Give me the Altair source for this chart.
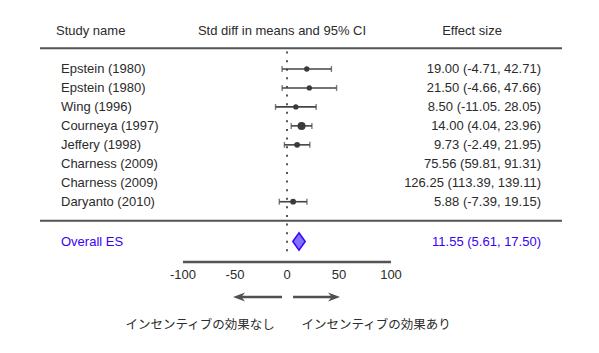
import altair as alt
import pandas as pd

# ---------------- data ----------------
studies = ["Epstein (1980)", "Epstein (1980)", "Wing (1996)", "Courneya (1997)",
           "Jeffery (1998)", "Charness (2009)", "Charness (2009)", "Daryanto (2010)"]
effects = [19.00, 21.50, 8.50, 14.00, 9.73, 75.56, 126.25, 5.88]
lowers = [-4.71, -4.66, -11.05, 4.04, -2.49, 59.81, 113.39, -7.39]
uppers = [42.71, 47.66, 28.05, 23.96, 21.95, 91.31, 139.11, 19.15]
effect_labels = ["19.00 (-4.71, 42.71)", "21.50 (-4.66, 47.66)", "8.50 (-11.05. 28.05)",
                 "14.00 (4.04, 23.96)", "9.73 (-2.49, 21.95)", "75.56 (59.81, 91.31)",
                 "126.25 (113.39, 139.11)", "5.88 (-7.39, 19.15)"]
weights = [7.0, 7.0, 7.0, 16.0, 8.3, 23.4, 23.0, 8.3]
plotted = [True, True, True, True, True, False, False, True]

overall_name = "Overall ES"
overall_effect = 11.55
overall_lower = 5.61
overall_upper = 17.50
overall_label = "11.55 (5.61, 17.50)"

headers = ["Study name", "Std diff in means and 95% CI", "Effect size"]
ticks = [-100, -50, 0, 50, 100]
tick_labels = ["-100", "-50", "0", "50", "100"]
direction_labels = ["インセンティブの効果なし", "インセンティブの効果あり"]

# ---------------- layout ----------------
W, H = 599, 353
X0_PX, PX_PER_UNIT = 287.0, 1.04
ROW0_PX, ROW_H = 69.0, 18.96
x_dom = [-X0_PX / PX_PER_UNIT, (W - X0_PX) / PX_PER_UNIT]
y_dom = [-ROW0_PX / ROW_H, (H - ROW0_PX) / ROW_H]

xs = alt.Scale(domain=x_dom, nice=False, zero=False)
ys = alt.Scale(domain=y_dom, nice=False, zero=False, reverse=True)

FONT = "Liberation Sans"
JFONT = "Noto Sans CJK JP"
TXT = "#2b2b2b"
LINE = "#555555"
BLUE = "#3a00f5"

def Xq(f):
    return alt.X(f, type="quantitative", scale=xs, axis=None)

def Yq(f):
    return alt.Y(f, type="quantitative", scale=ys, axis=None)

HEADER_ROW = -2.0
TOPLINE_ROW = -1.1
MIDLINE_ROW = 8.0
OVERALL_ROW = 9.1
AXIS_ROW = 10.18
TICKLAB_ROW = 10.86
ARROW_ROW = 12.03
DIRLAB_ROW = 13.5

df = pd.DataFrame({
    "study": studies, "effect": effects, "lower": lowers, "upper": uppers,
    "label": effect_labels, "weight": weights, "plotted": plotted,
    "row": list(range(len(studies))),
})
df_plot = df[df["plotted"]]

layers = []

# headers
hdr = pd.DataFrame({"t": headers, "row": [HEADER_ROW] * 3})
for i, (px, al) in enumerate([(56, "left"), (282, "center"), (472, "center")]):
    layers.append(
        alt.Chart(hdr.iloc[[i]]).mark_text(font=FONT, fontSize=13, color=TXT, align=al, baseline="middle")
        .encode(x=alt.value(px), y=Yq("row"), text="t:N")
    )

# horizontal separator lines
sep = pd.DataFrame({"row": [TOPLINE_ROW, MIDLINE_ROW]})
layers.append(
    alt.Chart(sep).mark_rule(color=LINE, strokeWidth=2)
    .encode(x=alt.value(40), x2=alt.value(562), y=Yq("row"))
)

# dotted zero line
zl = pd.DataFrame({"x": [0], "r1": [-0.92], "r2": [9.9]})
layers.append(
    alt.Chart(zl).mark_rule(color=LINE, strokeWidth=2, strokeDash=[2, 6.6], strokeCap="butt")
    .encode(x=Xq("x"), y=Yq("r1"), y2="r2")
)

# error bars
layers.append(
    alt.Chart(df_plot).mark_rule(color="#444444", strokeWidth=1.6)
    .encode(x=Xq("lower"), x2="upper", y=Yq("row"))
)
for col in ["lower", "upper"]:
    layers.append(
        alt.Chart(df_plot).mark_tick(color="#444444", orient="vertical", size=6, thickness=1.4)
        .encode(x=Xq(col), y=Yq("row"))
    )
layers.append(
    alt.Chart(df_plot).mark_circle(color="#3a3a3a", opacity=1)
    .encode(x=Xq("effect"), y=Yq("row"),
            size=alt.Size("weight:Q", scale=alt.Scale(domain=[0, 20], range=[0, 80]), legend=None))
)

# study names and effect labels
layers.append(
    alt.Chart(df).mark_text(font=FONT, fontSize=13, color=TXT, align="left", baseline="middle")
    .encode(x=alt.value(61), y=Yq("row"), text="study:N")
)
layers.append(
    alt.Chart(df).mark_text(font=FONT, fontSize=13, color=TXT, align="right", baseline="middle")
    .encode(x=alt.value(541), y=Yq("row"), text="label:N")
)

# overall
ov = pd.DataFrame({"name": [overall_name], "label": [overall_label], "row": [OVERALL_ROW]})
layers.append(
    alt.Chart(ov).mark_text(font=FONT, fontSize=13, color=BLUE, align="left", baseline="middle")
    .encode(x=alt.value(61), y=Yq("row"), text="name:N")
)
layers.append(
    alt.Chart(ov).mark_text(font=FONT, fontSize=13, color=BLUE, align="right", baseline="middle")
    .encode(x=alt.value(541), y=Yq("row"), text="label:N")
)
half = 0.46
dia = pd.DataFrame({
    "x": [overall_lower, overall_effect, overall_upper],
    "r1": [OVERALL_ROW, OVERALL_ROW - half, OVERALL_ROW],
    "r2": [OVERALL_ROW, OVERALL_ROW + half, OVERALL_ROW],
})
layers.append(
    alt.Chart(dia).mark_area(orient="vertical", color="#8072ff", fill="#8072ff", fillOpacity=1,
                              stroke="#3c00ff", strokeWidth=1.5, interpolate="linear")
    .encode(x=Xq("x"), y=Yq("r1"), y2="r2")
)

# x axis line & tick labels
ax = pd.DataFrame({"x1": [ticks[0]], "x2": [ticks[-1]], "row": [AXIS_ROW]})
layers.append(
    alt.Chart(ax).mark_rule(color=LINE, strokeWidth=2.5)
    .encode(x=Xq("x1"), x2="x2", y=Yq("row"))
)
tk = pd.DataFrame({"v": ticks, "lab": tick_labels, "row": [TICKLAB_ROW] * len(ticks)})
layers.append(
    alt.Chart(tk).mark_text(font=FONT, fontSize=13, color=TXT, align="center", baseline="middle")
    .encode(x=Xq("v"), y=Yq("row"), text="lab:N")
)

# direction arrows
arr = pd.DataFrame({"x1": [-47.0, 5.8], "x2": [-4.8, 46.0], "row": [ARROW_ROW] * 2})
layers.append(
    alt.Chart(arr).mark_rule(color="#505050", strokeWidth=2.5)
    .encode(x=Xq("x1"), x2="x2", y=Yq("row"))
)
heads = pd.DataFrame({"x": [-51.9, 51.0], "row": [ARROW_ROW] * 2})
layers.append(
    alt.Chart(heads.iloc[[0]]).mark_point(shape="M0,0L2,-0.75L1.4,0L2,0.75Z", size=144, filled=True,
                                           color="#505050", opacity=1)
    .encode(x=Xq("x"), y=Yq("row"))
)
layers.append(
    alt.Chart(heads.iloc[[1]]).mark_point(shape="M0,0L-2,-0.75L-1.4,0L-2,0.75Z", size=144, filled=True,
                                           color="#505050", opacity=1)
    .encode(x=Xq("x"), y=Yq("row"))
)
dl = pd.DataFrame({"t": direction_labels, "row": [DIRLAB_ROW] * 2})
for i, px in enumerate([200, 376]):
    layers.append(
        alt.Chart(dl.iloc[[i]]).mark_text(font=JFONT, fontSize=12.5, color=TXT, align="center", baseline="middle")
        .encode(x=alt.value(px), y=Yq("row"), text="t:N")
    )

chart = alt.layer(*layers).properties(
    width=W, height=H, padding=0, autosize=alt.AutoSizeParams(type="none"),
    background="white",
).configure_view(stroke=None)

chart.save("out.html", embed_options={"renderer": "svg", "actions": False})
